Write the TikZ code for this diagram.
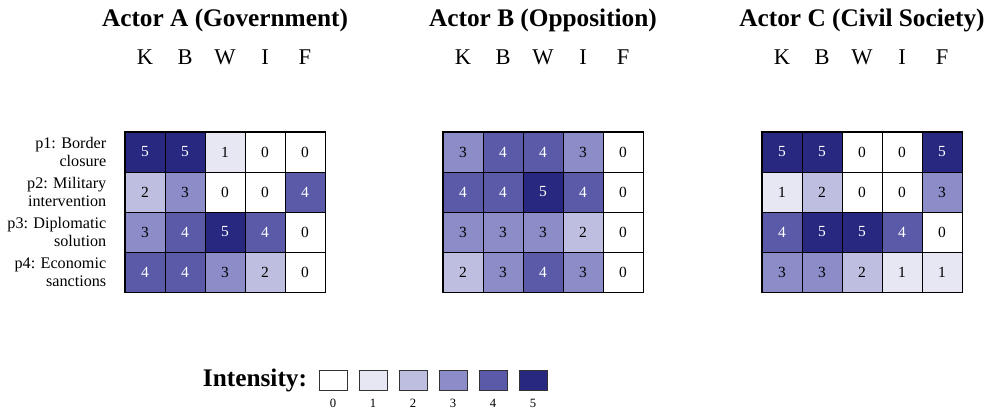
\documentclass[tikz,border=0pt]{standalone}
\usepackage{fontspec}
\setmainfont{Liberation Serif}
\usetikzlibrary{positioning}
\definecolor{lvl0}{RGB}{255,255,255}
\definecolor{lvl1}{RGB}{231,231,244}
\definecolor{lvl2}{RGB}{190,190,224}
\definecolor{lvl3}{RGB}{140,140,200}
\definecolor{lvl4}{RGB}{90,90,168}
\definecolor{lvl5}{RGB}{40,40,128}
\begin{document}
\begin{tikzpicture}[
  cell/.style={draw=black, line width=0.7pt, minimum size=1cm, inner sep=0pt, font=\fontsize{11}{13}\selectfont},
  v0/.style={fill=lvl0, text=black},
  v1/.style={fill=lvl1, text=black},
  v2/.style={fill=lvl2, text=black},
  v3/.style={fill=lvl3, text=black},
  v4/.style={fill=lvl4, text=white},
  v5/.style={fill=lvl5, text=white},
  title/.style={font=\fontsize{18}{21}\selectfont\bfseries},
  colhead/.style={font=\fontsize{16}{19}\selectfont},
  rowlab/.style={align=right, font=\fontsize{11.5}{12.5}\selectfont, inner sep=0pt},
  legbox/.style={draw=black!80, line width=0.6pt, minimum width=0.7cm, minimum height=0.5cm, inner sep=0pt},
  legnum/.style={font=\small, inner sep=1pt}]
\useasboundingbox (0,0) rectangle (25.025,-10.35);

% Actor A
\node[title] (A-title) at (5.625,-0.5) {Actor A (Government)};
\foreach \r/\vals in {1/{5,5,1,0,0},2/{2,3,0,0,4},3/{3,4,5,4,0},4/{4,4,3,2,0}} {
  \foreach \v [count=\c] in \vals {
    \node[cell,v\v] (A-\r-\c) at ({3.125+\c-0.5},{-2.8-\r}) {\v};
  }
}
\draw[line width=1.2pt] (A-1-1.north west) rectangle (A-4-5.south east);
\foreach \h [count=\c] in {K,B,W,I,F} {
  \node[colhead] (A-h\c) at ({3.125+\c-0.5},-1.425) {\h};
}
% policy labels
\node[rowlab, left=0.45cm of A-1-1] (p1) {p1: Border\\closure};
\node[rowlab, left=0.45cm of A-2-1] (p2) {p2: Military\\intervention};
\node[rowlab, left=0.45cm of A-3-1] (p3) {p3: Diplomatic\\solution};
\node[rowlab, left=0.45cm of A-4-1] (p4) {p4: Economic\\sanctions};

% Actor B
\node[title] (B-title) at (13.575,-0.5) {Actor B (Opposition)};
\foreach \r/\vals in {1/{3,4,4,3,0},2/{4,4,5,4,0},3/{3,3,3,2,0},4/{2,3,4,3,0}} {
  \foreach \v [count=\c] in \vals {
    \node[cell,v\v] (B-\r-\c) at ({11.075+\c-0.5},{-2.8-\r}) {\v};
  }
}
\draw[line width=1.2pt] (B-1-1.north west) rectangle (B-4-5.south east);
\foreach \h [count=\c] in {K,B,W,I,F} {
  \node[colhead] (B-h\c) at ({11.075+\c-0.5},-1.425) {\h};
}

% Actor C
\node[title] (C-title) at (21.55,-0.5) {Actor C (Civil Society)};
\foreach \r/\vals in {1/{5,5,0,0,5},2/{1,2,0,0,3},3/{4,5,5,4,0},4/{3,3,2,1,1}} {
  \foreach \v [count=\c] in \vals {
    \node[cell,v\v] (C-\r-\c) at ({19.05+\c-0.5},{-2.8-\r}) {\v};
  }
}
\draw[line width=1.2pt] (C-1-1.north west) rectangle (C-4-5.south east);
\foreach \h [count=\c] in {K,B,W,I,F} {
  \node[colhead] (C-h\c) at ({19.05+\c-0.5},-1.425) {\h};
}

% legend
\node[title, anchor=east] (legend) at (7.8,-9.5) {Intensity:};
\foreach \v in {0,...,5} {
  \node[legbox,v\v] (key\v) at ({8.325+\v},-9.5) {};
  \node[legnum, below=0.18cm of key\v] (keynum\v) {\v};
}
\end{tikzpicture}
\end{document}
